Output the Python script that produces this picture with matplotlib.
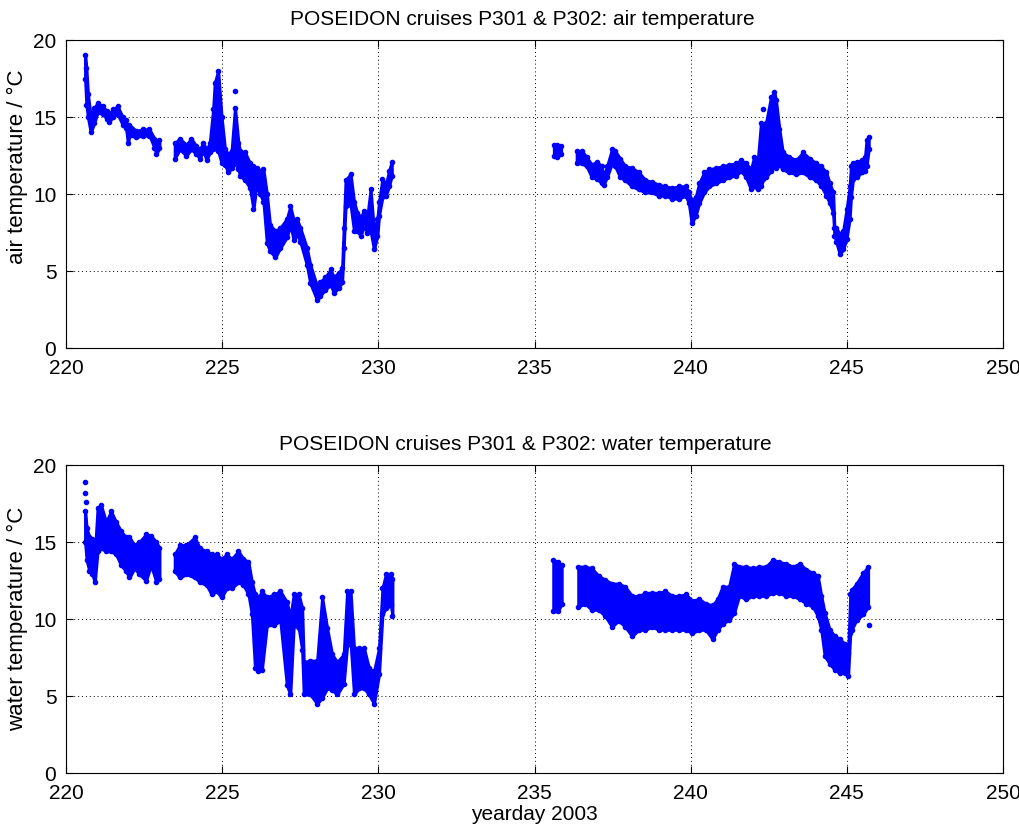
import matplotlib
matplotlib.use("Agg")
import matplotlib.pyplot as plt
import numpy as np

plt.rcParams.update({
    "font.family": ["Liberation Sans", "DejaVu Sans"],
    "font.size": 15,
    "axes.linewidth": 0.8,
})

# ── air temperature: yearday, lower / upper edge of the point cloud ──
air_day = [220.61, 220.65, 220.70, 220.79, 220.90, 221.01, 221.17, 221.30, 221.38, 221.50,
           221.65, 221.81, 221.92, 221.98, 222.03, 222.24, 222.46, 222.67, 222.83, 222.89, 222.99,
           223.48, 223.64, 223.85, 224.01, 224.17, 224.28, 224.39, 224.50, 224.60, 224.71,
           224.76, 224.87, 224.98, 225.09, 225.19, 225.30, 225.41, 225.52, 225.57, 225.73,
           225.89, 226.00, 226.10, 226.21, 226.32, 226.43, 226.53, 226.70, 226.86, 227.07,
           227.18, 227.29, 227.39, 227.50, 227.71, 227.82, 228.04, 228.14, 228.30, 228.47,
           228.57, 228.73, 228.84, 228.89, 228.95, 229.11, 229.22, 229.32, 229.43, 229.54,
           229.65, 229.75, 229.86, 229.97, 230.02, 230.13, 230.24, 230.34, 230.43,
           235.62, 235.72, 235.85,
           236.35, 236.51, 236.67, 236.83, 236.99, 237.15, 237.21, 237.32, 237.48, 237.58,
           237.74, 237.90, 238.12, 238.34, 238.55, 238.76, 238.98, 239.19, 239.41, 239.62,
           239.84, 239.94, 240.03, 240.16, 240.27, 240.43, 240.59, 240.80, 241.02, 241.23,
           241.45, 241.61, 241.77, 241.93, 242.03, 242.14, 242.25, 242.33, 242.41, 242.57,
           242.68, 242.73, 242.84, 242.95, 243.16, 243.38, 243.59, 243.81, 244.02, 244.18,
           244.34, 244.45, 244.56, 244.60, 244.66, 244.77, 244.88, 244.99, 245.09, 245.13,
           245.20, 245.31, 245.47, 245.58, 245.63, 245.70]
air_lo = [17.5, 15.8, 15.0, 14.0, 14.6, 15.3, 15.2, 14.9, 14.7, 15.0,
          15.2, 14.5, 14.3, 13.3, 13.8, 13.7, 13.8, 13.8, 13.0, 12.6, 13.0,
          12.3, 12.9, 12.5, 12.9, 12.6, 12.3, 12.8, 12.2, 12.7, 12.9,
          13.0, 12.8, 12.0, 11.9, 11.4, 11.7, 12.0, 11.6, 11.2, 10.9,
          10.4, 9.0, 10.6, 10.0, 9.5, 6.8, 6.3, 5.9, 6.5, 7.2,
          8.0, 7.0, 7.4, 6.9, 5.4, 4.2, 3.1, 3.4, 3.8, 4.1,
          3.6, 3.9, 4.3, 6.5, 9.2, 9.3, 7.6, 7.6, 7.3, 7.9,
          7.5, 7.6, 6.4, 7.3, 8.6, 9.8, 9.9, 10.5, 11.2,
          12.5, 12.4, 12.6,
          12.0, 12.0, 11.8, 11.1, 11.0, 10.7, 10.6, 11.1, 12.0, 11.8,
          11.1, 10.9, 10.5, 10.3, 10.1, 10.1, 9.9, 9.9, 9.7, 9.7,
          9.9, 9.4, 8.1, 8.6, 9.4, 10.1, 10.5, 10.7, 10.9, 11.1,
          11.2, 11.5, 11.1, 10.3, 10.5, 10.3, 10.5, 11.0, 11.1, 11.5,
          11.8, 11.7, 11.9, 11.6, 11.4, 11.3, 11.4, 11.1, 10.9, 10.5,
          9.9, 9.4, 8.8, 7.3, 6.9, 6.1, 6.4, 7.1, 8.4, 9.8,
          11.0, 11.1, 11.4, 11.5, 11.8, 12.9]
air_hi = [19.0, 18.2, 16.5, 15.0, 15.6, 15.9, 15.7, 15.4, 15.2, 15.5,
          15.7, 15.0, 14.8, 14.3, 14.5, 14.1, 14.2, 14.2, 13.6, 13.3, 13.5,
          13.3, 13.6, 13.2, 13.6, 13.1, 12.9, 13.3, 12.9, 13.3, 15.5,
          17.2, 18.0, 15.0, 12.9, 12.6, 12.8, 15.6, 13.3, 12.8, 12.7,
          12.0, 11.8, 11.7, 11.5, 11.6, 10.0, 8.0, 7.6, 7.8, 8.4,
          9.2, 8.3, 8.4, 7.8, 6.5, 5.4, 4.0, 4.3, 4.6, 5.1,
          4.6, 4.9, 5.2, 7.8, 10.9, 11.3, 9.5, 8.8, 8.5, 8.9,
          8.6, 10.3, 7.6, 8.4, 9.5, 11.0, 10.6, 11.5, 12.1,
          13.2, 13.2, 13.1,
          12.8, 12.8, 12.4, 11.9, 12.1, 11.8, 11.1, 11.8, 12.9, 12.8,
          12.3, 11.8, 11.7, 11.4, 10.9, 10.8, 10.6, 10.5, 10.4, 10.5,
          10.5, 10.1, 9.6, 9.8, 10.7, 11.4, 11.6, 11.7, 11.8, 11.9,
          12.0, 12.2, 12.0, 11.6, 12.4, 12.0, 14.6, 14.5, 14.6, 16.3,
          16.6, 16.1, 14.2, 12.7, 12.4, 12.2, 12.7, 12.3, 12.0, 11.8,
          11.4, 10.7, 10.1, 7.8, 7.8, 7.4, 7.6, 9.0, 10.5, 11.8,
          12.0, 12.1, 12.2, 12.4, 13.5, 13.7]
air_odd_day = [225.41, 242.33]
air_odd_val = [16.7, 15.5]

# ── water temperature ──
water_day = [220.61, 220.66, 220.75, 220.84, 220.92, 221.01, 221.12, 221.28, 221.44, 221.60,
             221.76, 221.92, 222.03, 222.19, 222.35, 222.56, 222.72, 222.89, 222.99,
             223.48, 223.64, 223.85, 224.12, 224.28, 224.50, 224.66, 224.82, 224.98, 225.14,
             225.30, 225.52, 225.68, 225.84, 225.95, 226.05, 226.16, 226.27, 226.43, 226.65,
             226.86, 227.07, 227.18, 227.29, 227.45, 227.56, 227.61, 227.82, 228.04, 228.20,
             228.36, 228.52, 228.68, 228.89, 229.00, 229.11, 229.22, 229.38, 229.54, 229.70,
             229.86, 230.02, 230.13, 230.24, 230.40, 230.45,
             235.60, 235.75, 235.87,
             236.40, 236.62, 236.83, 237.05, 237.26, 237.48, 237.69, 237.90, 238.12, 238.34,
             238.55, 238.76, 238.98, 239.19, 239.41, 239.62, 239.84, 240.05, 240.27, 240.48,
             240.70, 240.86, 241.02, 241.23, 241.39, 241.55, 241.77, 241.98, 242.20, 242.41,
             242.63, 242.84, 243.05, 243.27, 243.49, 243.70, 243.91, 244.07, 244.18, 244.29,
             244.45, 244.61, 244.77, 244.93, 245.04, 245.11, 245.15, 245.31, 245.52, 245.68]
water_lo = [15.0, 13.8, 13.1, 12.9, 12.4, 14.4, 14.6, 14.4, 14.4, 14.2,
            13.5, 13.1, 12.7, 13.3, 12.9, 12.5, 13.5, 12.4, 12.6,
            13.1, 12.7, 12.9, 12.7, 12.4, 12.2, 11.6, 11.8, 11.4, 12.0,
            12.0, 12.4, 12.2, 11.6, 10.3, 6.8, 6.6, 6.7, 9.6, 9.6,
            9.9, 5.7, 5.1, 9.6, 9.4, 8.0, 5.1, 5.1, 4.5, 4.9,
            5.5, 5.4, 5.1, 5.8, 8.3, 8.5, 5.1, 5.5, 5.5, 5.1,
            4.5, 6.4, 10.3, 10.7, 10.9, 10.2,
            10.5, 10.5, 11.0,
            10.8, 11.0, 10.6, 10.6, 10.2, 9.5, 9.9, 9.5, 8.9, 9.3,
            9.3, 9.5, 9.3, 9.3, 9.3, 9.3, 9.3, 9.1, 9.3, 9.3,
            8.7, 9.3, 9.7, 9.95, 10.4, 11.5, 11.3, 11.5, 11.5, 11.5,
            11.7, 11.7, 11.5, 11.5, 11.3, 11.0, 10.8, 10.2, 9.3, 7.6,
            7.1, 6.7, 6.5, 6.5, 6.3, 9.1, 9.3, 9.95, 10.3, 10.8]
water_hi = [17.0, 15.9, 15.3, 15.2, 14.2, 17.2, 17.4, 16.3, 17.0, 16.3,
            15.7, 15.3, 15.3, 14.8, 15.0, 15.5, 15.4, 15.0, 14.6,
            14.2, 14.8, 14.8, 15.3, 14.6, 14.4, 14.2, 14.2, 13.9, 14.2,
            13.9, 14.4, 13.9, 13.7, 12.4, 11.6, 11.4, 11.8, 11.4, 11.6,
            11.8, 11.1, 10.1, 11.6, 11.6, 10.7, 7.2, 7.3, 7.3, 11.4,
            9.4, 7.7, 7.2, 7.7, 11.8, 11.8, 8.1, 8.1, 8.1, 6.8,
            6.6, 8.1, 12.0, 12.9, 12.9, 12.6,
            13.85, 13.7, 13.5,
            13.4, 13.4, 13.3, 12.8, 12.55, 12.3, 12.3, 12.1, 11.5, 11.5,
            11.7, 11.7, 11.7, 11.8, 11.5, 11.5, 11.6, 11.2, 11.3, 11.0,
            10.9, 11.3, 12.1, 12.1, 13.6, 13.4, 13.4, 13.3, 13.4, 13.4,
            13.85, 13.7, 13.6, 13.4, 13.6, 13.2, 13.0, 12.8, 11.5, 10.4,
            9.3, 8.9, 8.7, 8.4, 7.8, 11.6, 11.9, 12.3, 13.0, 13.4]
water_odd_day = [220.61, 220.62, 220.64, 245.70]
water_odd_val = [18.9, 18.2, 17.6, 9.6]


def draw_cloud(ax, day, lo, hi, odd_day, odd_val):
    day, lo, hi = np.asarray(day), np.asarray(lo), np.asarray(hi)
    # separate cruise legs wherever the record has a gap
    cuts = np.where(np.diff(day) > 0.3)[0] + 1
    for d, l, h in zip(np.split(day, cuts), np.split(lo, cuts), np.split(hi, cuts)):
        ax.fill_between(d, l, h, color="b", linewidth=2.2, edgecolor="b", zorder=3)
        ax.plot(d, l, ".", color="b", ms=6, zorder=3)
        ax.plot(d, h, ".", color="b", ms=6, zorder=3)
    ax.plot(odd_day, odd_val, ".", color="b", ms=6, zorder=3)


def style_axes(ax):
    ax.set_xlim(220, 250)
    ax.set_ylim(0, 20)
    ax.set_xticks(np.arange(220, 251, 5))
    ax.set_yticks(np.arange(0, 21, 5))
    ax.grid(True, color="black", linestyle=(0, (1, 3)), linewidth=0.7)
    ax.set_axisbelow(True)
    ax.tick_params(direction="in", top=True, right=True, length=5, width=0.8)
    ax.tick_params(axis="x", pad=8)
    ax.tick_params(axis="y", pad=7)
    for s in ax.spines.values():
        s.set_color("black")


fig = plt.figure(figsize=(10.19, 8.32), dpi=100)
ax1 = fig.add_axes([0.0648, 0.5817, 0.9195, 0.3702])
ax2 = fig.add_axes([0.0648, 0.0709, 0.9195, 0.3702])

draw_cloud(ax1, air_day, air_lo, air_hi, air_odd_day, air_odd_val)
style_axes(ax1)
ax1.set_title("POSEIDON cruises P301 & P302: air temperature", fontsize=15, x=0.487, pad=11)
ax1.set_ylabel("air temperature / °C", fontsize=16)
ax1.yaxis.set_label_coords(-0.041, 0.59)

draw_cloud(ax2, water_day, water_lo, water_hi, water_odd_day, water_odd_val)
style_axes(ax2)
ax2.set_title("POSEIDON cruises P301 & P302: water temperature", fontsize=15, x=0.49, pad=11)
ax2.set_ylabel("water temperature / °C", fontsize=16)
ax2.yaxis.set_label_coords(-0.041, 0.5)
ax2.set_xlabel("yearday 2003", labelpad=1)

fig.savefig("out.png", dpi=100)
